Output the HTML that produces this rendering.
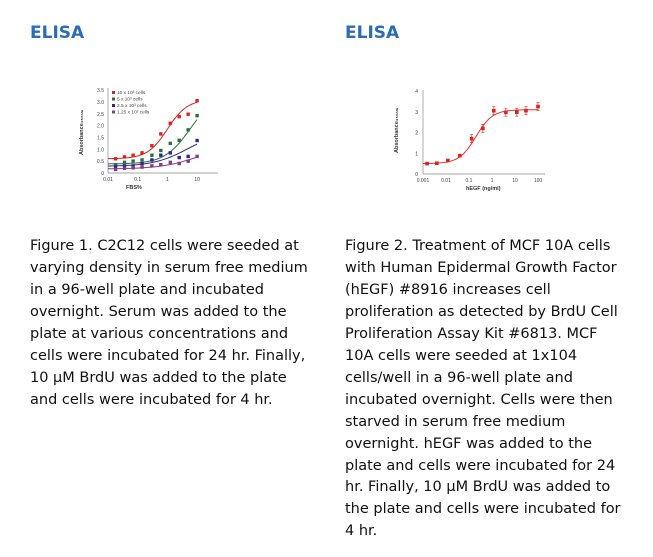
<!DOCTYPE html>
<html><head><meta charset="utf-8"><style>
body{margin:0;width:653px;height:557px;background:#fff;position:relative;font-family:"DejaVu Sans","Liberation Sans",sans-serif;overflow:hidden}
h2{position:absolute;margin:0;font-size:17px;color:#2a6db5;font-weight:bold;top:23px}
.p{position:absolute;top:236px;font-size:14.5px;line-height:21.95px;color:#111;white-space:nowrap}
svg{position:absolute;left:0;top:0}
</style></head><body>
<h2 style="left:30px">ELISA</h2>
<h2 style="left:345px">ELISA</h2>
<div class="p" style="left:30px">Figure 1. C2C12 cells were seeded at<br>varying density in serum free medium<br>in a 96-well plate and incubated<br>overnight. Serum was added to the<br>plate at various concentrations and<br>cells were incubated for 24 hr. Finally,<br>10 μM BrdU was added to the plate<br>and cells were incubated for 4 hr.</div>
<div class="p" style="left:345px">Figure 2. Treatment of MCF 10A cells<br>with Human Epidermal Growth Factor<br>(hEGF) #8916 increases cell<br>proliferation as detected by BrdU Cell<br>Proliferation Assay Kit #6813. MCF<br>10A cells were seeded at 1x104<br>cells/well in a 96-well plate and<br>incubated overnight. Cells were then<br>starved in serum free medium<br>overnight. hEGF was added to the<br>plate and cells were incubated for 24<br>hr. Finally, 10 μM BrdU was added to<br>the plate and cells were incubated for<br>4 hr.</div>
<svg id="s" width="653" height="557" font-family="Liberation Sans,sans-serif"></svg>
<script>
let o='';
const X1=v=>108+(Math.log10(v)+2)*29.7, Y1=v=>173-v*23.7;
o+='<line x1="108" y1="88" x2="108" y2="173" stroke="#888" stroke-width="0.7"/><line x1="108" y1="173" x2="218" y2="173" stroke="#888" stroke-width="0.7"/>';
for(let i=0;i<=7;i++){let v=i*0.5;o+=`<text x="104" y="${Y1(v)+2}" font-size="5" text-anchor="end" fill="#444">${i==0?'0':v.toFixed(1)}</text>`;}
[0.01,0.1,1,10].forEach(v=>o+=`<text x="${X1(v)}" y="181" font-size="5" text-anchor="middle" fill="#444">${v}</text>`);
o+='<text x="126" y="189" font-size="5.5" font-weight="bold" fill="#333">FBS%</text>';
o+='<text transform="translate(83,155) rotate(-90)" font-size="5.5" font-weight="bold" fill="#333">Absorbance₄₅₀ₙₘ</text>';
const xs=[0.018,0.036,0.07,0.14,0.3,0.6,1.25,2.5,5,10];
const S1=[['#e02020',[0.6,0.68,0.75,0.85,1.15,1.65,2.1,2.38,2.48,3.05],v=>0.6+2.5/(1+Math.pow(1/v,1.3))],
['#2e6e3e',[0.35,0.45,0.5,0.55,0.75,0.95,1.25,1.38,1.82,2.42],v=>0.38+3/(1+Math.pow(6/v,1))],
['#2a2a8a',[0.25,0.3,0.3,0.4,0.55,0.75,0.85,0.65,0.7,1.37],v=>0.28+1.5/(1+Math.pow(5/v,0.75))],
['#8a3a7a',[0.15,0.2,0.22,0.25,0.3,0.35,0.45,0.4,0.5,0.7],v=>0.17+1/(1+Math.pow(10/v,0.7))]];
const labs=['10 x 10³ cells','5 x 10³ cells','2.5 x 10³ cells','1.25 x 10³ cells'];
S1.forEach((s,k)=>{let d='';for(let i=0;i<=60;i++){let v=Math.pow(10,-2+i*3/60);d+=(i?'L':'M')+X1(v).toFixed(1)+','+Y1(s[2](v)).toFixed(1);}
o+=`<path d="${d}" fill="none" stroke="${s[0]}" stroke-width="1"/>`;
s[1].forEach((v,i)=>o+=`<rect x="${X1(xs[i])-1.7}" y="${Y1(v)-1.7}" width="3.4" height="3.4" fill="${s[0]}"/>`);
o+=`<rect x="112" y="${91+k*6.5}" width="3" height="3" fill="${s[0]}"/><text x="117" y="${94+k*6.5}" font-size="4.8" fill="#444">${labs[k]}</text>`;});
const X2=v=>423+(Math.log10(v)+3)*23, Y2=v=>174-v*20.75;
o+='<line x1="423" y1="90" x2="423" y2="174" stroke="#888" stroke-width="0.7"/><line x1="423" y1="174" x2="545" y2="174" stroke="#888" stroke-width="0.7"/>';
for(let i=0;i<=4;i++)o+=`<text x="418" y="${Y2(i)+2}" font-size="5" text-anchor="end" fill="#444">${i}</text>`;
[0.001,0.01,0.1,1,10,100].forEach(v=>o+=`<text x="${X2(v)}" y="182" font-size="5" text-anchor="middle" fill="#444">${v}</text>`);
o+='<text x="466" y="190" font-size="5.5" font-weight="bold" fill="#333">hEGF (ng/ml)</text>';
o+='<text transform="translate(398,153) rotate(-90)" font-size="5.5" font-weight="bold" fill="#333">Absorbance₄₅₀ₙₘ</text>';
const x2=[0.0015,0.004,0.012,0.04,0.13,0.4,1.2,4,12,30,100],y2=[0.5,0.52,0.65,0.88,1.7,2.2,3.05,2.97,2.98,3.05,3.25];
let d='';for(let i=0;i<=80;i++){let v=Math.pow(10,-3+i*5/80);let y=0.5+2.6/(1+Math.pow(0.2/v,1.2));d+=(i?'L':'M')+X2(v).toFixed(1)+','+Y2(y).toFixed(1);}
o+=`<path d="${d}" fill="none" stroke="#e83030" stroke-width="1"/>`;
x2.forEach((v,i)=>{let x=X2(v),y=Y2(y2[i]);if(i>3)o+=`<path d="M${x},${y-4}V${y+4}M${x-1.5},${y-4}H${x+1.5}M${x-1.5},${y+4}H${x+1.5}" stroke="#e02020" stroke-width="0.6"/>`;o+=`<rect x="${x-1.8}" y="${y-1.8}" width="3.6" height="3.6" fill="#e02020"/>`;});
document.getElementById('s').innerHTML=o;
</script>
</body></html>
